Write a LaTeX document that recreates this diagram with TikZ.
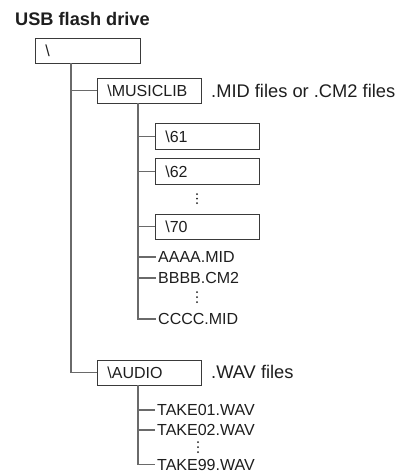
\documentclass[tikz,border=0pt]{standalone}
\usepackage{fontspec}
\setmainfont{Liberation Sans}
\definecolor{txt}{HTML}{1E1E1E}
\definecolor{boxcol}{HTML}{3A3A3A}
\definecolor{linecol}{HTML}{6A6A6A}
\begin{document}
\begin{tikzpicture}[x=1pt,y=-1pt,
  box/.style={draw=boxcol, line width=0.8pt, anchor=north west, inner xsep=10pt, inner ysep=0pt,
    align=left, minimum height=25pt, text=txt, font=\fontsize{16}{19}\selectfont},
  conn/.style={draw=linecol, line width=1.1pt},
  filetxt/.style={anchor=west, inner xsep=2pt, inner ysep=0pt, text=txt, font=\fontsize{16}{19}\selectfont},
  desc/.style={anchor=west, inner sep=0pt, text=txt, font=\fontsize{18.3}{22}\selectfont},
  dotf/.style={fill=txt}
]
\useasboundingbox (0,0) rectangle (400,472);
\node[anchor=base west, inner sep=0pt, text=txt, font=\fontsize{18.2}{22}\bfseries] (title) at (15,25) {USB flash drive};

\node[box, text width=85pt] (root) at (35,38) {\textbackslash};
\node[box, text width=84pt] (music) at (97,78) {\textbackslash MUSICLIB};
\node[desc] (musicdesc) at (211,91) {.MID files or .CM2 files};
\node[box, text width=84pt, minimum height=26pt] (s61) at (155,123) {\textbackslash 61};
\node[box, text width=84pt, minimum height=26pt] (s62) at (155,158) {\textbackslash 62};
\node[box, text width=84pt, minimum height=25pt] (s70) at (155,214) {\textbackslash 70};
\node[filetxt] (aaaa) at (156,257) {AAAA.MID};
\node[filetxt] (bbbb) at (156,278) {BBBB.CM2};
\node[filetxt] (cccc) at (156,319) {CCCC.MID};

\node[box, text width=84pt] (audio) at (97,360) {\textbackslash AUDIO};
\node[desc] (audiodesc) at (211,372) {.WAV files};
\node[filetxt] (t01) at (155,410) {TAKE01.WAV};
\node[filetxt] (t02) at (155,430) {TAKE02.WAV};
\node[filetxt] (t99) at (155,464.5) {TAKE99.WAV};

% connectors
\coordinate (rt) at (71,63);
\coordinate (mt) at (138,103);
\coordinate (at) at (138,385);
\draw[conn] (rt) |- (audio.west);
\draw[conn] (rt) |- (music.west);
\draw[conn] (mt) |- (cccc.west);
\draw[conn] (mt) |- (s61.west);
\draw[conn] (mt) |- (s62.west);
\draw[conn] (mt) |- (s70.west);
\draw[conn] (mt) |- (aaaa.west);
\draw[conn] (mt) |- (bbbb.west);
\draw[conn] (at) |- (t99.west);
\draw[conn] (at) |- (t01.west);
\draw[conn] (at) |- (t02.west);

% vertical ellipses
\foreach \yy in {194,198.5,203} {\fill[dotf] (197,\yy) circle (1pt);}
\foreach \yy in {292,297,302} {\fill[dotf] (197,\yy) circle (1pt);}
\foreach \yy in {442,447,452} {\fill[dotf] (198,\yy) circle (1pt);}
\end{tikzpicture}
\end{document}
